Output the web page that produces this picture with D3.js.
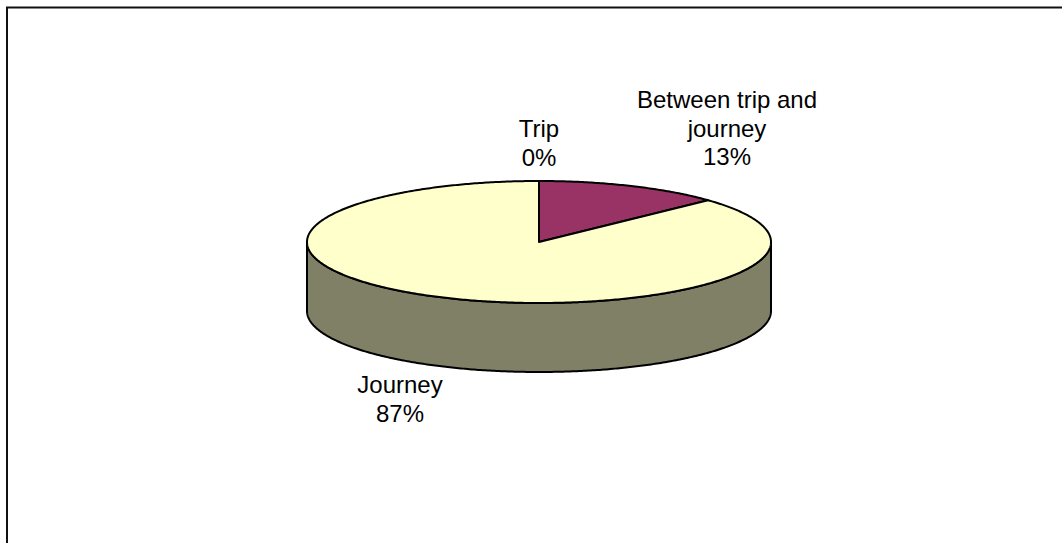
<!DOCTYPE html>
<html>
<head>
<meta charset="utf-8">
<script src="https://cdn.jsdelivr.net/npm/d3@7"></script>
<style>
  body { margin: 0; background: #fff; }
  svg text { font-family: "Liberation Sans", Arial, sans-serif; }
</style>
</head>
<body>
<div id="chart"></div>
<script>
var categories = ["Trip", "Between trip and journey", "Journey"];
var values = [0, 13, 87];
var labelLines = [["Trip", "0%"], ["Between trip and", "journey", "13%"], ["Journey", "87%"]];
var sliceColors = ["#9999FF", "#993366", "#FFFFCC"];

var width = 1062, height = 543;
var cx = 539, cy = 242, rx = 232, ry = 61, depth = 69;

var svg = d3.select("#chart").append("svg")
    .attr("width", width)
    .attr("height", height);

// frame (top and left edges only are visible)
svg.append("path")
    .attr("d", "M7,543 L7,7.5 L1062,7.5")
    .attr("fill", "none")
    .attr("stroke", "#111")
    .attr("stroke-width", 2);

var x = d3.scaleLinear().domain([-1, 1]).range([cx - rx, cx + rx]);
var y = d3.scaleLinear().domain([-1, 1]).range([cy + ry, cy - ry]);

function edge(a0, a1, dz) {
    var n = Math.max(2, Math.ceil(Math.abs(a1 - a0) / 0.01));
    var pts = [];
    for (var i = 0; i <= n; i++) {
        var a = a0 + (a1 - a0) * i / n;
        pts.push([x(Math.sin(a)), y(Math.cos(a)) + dz]);
    }
    return pts;
}

var line = d3.line();

var pie = d3.pie().sort(null).value(function(d) { return d; });
var arcs = pie(values);

// side wall (front half)
var topEdge = edge(Math.PI / 2, 3 * Math.PI / 2, 0);
var bottomEdge = edge(3 * Math.PI / 2, Math.PI / 2, depth);
svg.append("path")
    .attr("d", line(topEdge.concat(bottomEdge)) + "Z")
    .attr("fill", "#808066")
    .attr("stroke", "#000")
    .attr("stroke-width", 2)
    .attr("stroke-linejoin", "round");

// top face slices
svg.selectAll(".slice")
    .data(arcs)
    .enter()
    .append("path")
    .attr("class", "slice")
    .attr("d", function(d) {
        if (d.endAngle - d.startAngle <= 0) return null;
        return line([[cx, cy]].concat(edge(d.startAngle, d.endAngle, 0))) + "Z";
    })
    .attr("fill", function(d, i) { return sliceColors[i]; })
    .attr("stroke", "#000")
    .attr("stroke-width", 2)
    .attr("stroke-linejoin", "round");

// labels: first-line baselines
var labelPos = [[539, 137], [727, 108], [400, 393]];
var lineH = 28.5;

svg.selectAll(".label")
    .data(arcs)
    .enter()
    .append("text")
    .attr("class", "label")
    .attr("text-anchor", "middle")
    .attr("font-size", 24)
    .attr("fill", "#000")
    .each(function(d, i) {
        var n = labelLines[i].length;
        var t = d3.select(this);
        labelLines[i].forEach(function(s, j) {
            t.append("tspan")
                .attr("x", labelPos[i][0])
                .attr("y", labelPos[i][1] + j * lineH)
                .text(j === n - 1 ? Math.round(d.data) + "%" : s);
        });
    });
</script>
</body>
</html>
